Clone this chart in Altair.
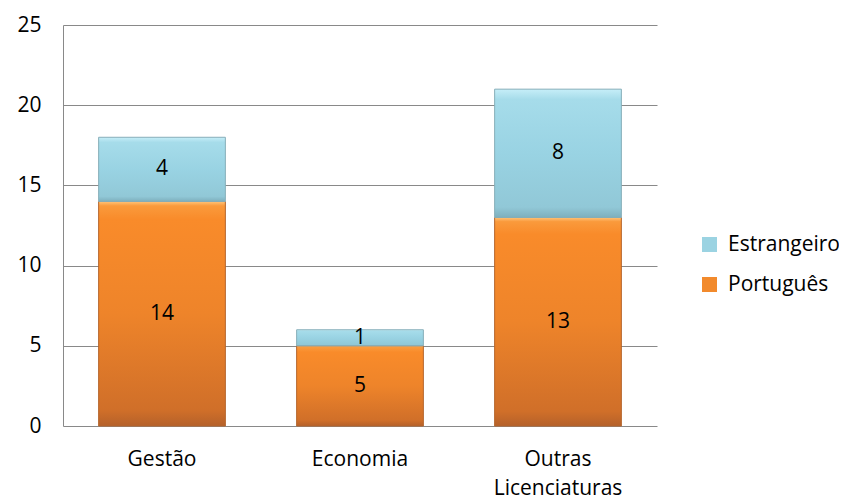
import altair as alt
import pandas as pd

categories = ["Gestão", "Economia", "Outras Licenciaturas"]
portugues = [14, 5, 13]
estrangeiro = [4, 1, 8]
series_names = ["Português", "Estrangeiro"]

rows = []
for c, p, e in zip(categories, portugues, estrangeiro):
    rows.append({"cat": c, "series": "Português", "value": p, "ord": 0})
    rows.append({"cat": c, "series": "Estrangeiro", "value": e, "ord": 1})
df = pd.DataFrame(rows)

FONT = "Open Sans"
FS = 21
GRID = "#898989"

orange_grad = alt.Gradient(
    gradient="linear", x1=0, x2=0, y1=0, y2=1,
    stops=[
        alt.GradientStop(offset=0, color="#FFC47A"),
        alt.GradientStop(offset=0.02, color="#FA9A3C"),
        alt.GradientStop(offset=0.08, color="#F98B2A"),
        alt.GradientStop(offset=0.5, color="#EE842A"),
        alt.GradientStop(offset=0.93, color="#D06F29"),
        alt.GradientStop(offset=1, color="#B5612A"),
    ],
)
blue_grad = alt.Gradient(
    gradient="linear", x1=0, x2=0, y1=0, y2=1,
    stops=[
        alt.GradientStop(offset=0, color="#C6EEF8"),
        alt.GradientStop(offset=0.08, color="#A6DCEA"),
        alt.GradientStop(offset=0.5, color="#99D3E3"),
        alt.GradientStop(offset=0.92, color="#91C8D7"),
        alt.GradientStop(offset=1, color="#7EAFBD"),
    ],
)

base = alt.Chart(df).transform_stack(
    stack="value", as_=["y0", "y1"], groupby=["cat"],
    sort=[alt.SortField("ord", order="ascending")],
).transform_calculate(mid="(datum.y0 + datum.y1) / 2")

x_enc = alt.X(
    "cat:N", sort=categories, title=None,
    scale=alt.Scale(paddingInner=0.36, paddingOuter=0.18),
    axis=alt.Axis(
        labelAngle=0, domain=False, ticks=False, grid=False,
        labelExpr="split(datum.label, ' ')", labelLineHeight=29,
        labelFont=FONT, labelFontSize=FS, labelColor="#000000",
        labelPadding=22, labelBaseline="top",
    ),
)
y_scale = alt.Scale(domain=[0, 25], nice=False)
y_enc = alt.Y(
    "y0:Q", scale=y_scale, title=None,
    axis=alt.Axis(
        values=[0, 5, 10, 15, 20, 25], ticks=False, domain=True,
        domainColor=GRID, gridColor=GRID, grid=True,
        labelFont=FONT, labelFontSize=FS, labelColor="#000000",
        labelPadding=22,
    ),
)

por_bars = base.transform_filter("datum.series == 'Português'").mark_bar(
    color=orange_grad, stroke="#B5652C", strokeWidth=1
).encode(x=x_enc, y=y_enc, y2="y1:Q")

est_bars = base.transform_filter("datum.series == 'Estrangeiro'").mark_bar(
    color=blue_grad, stroke="#86AEB9", strokeWidth=1
).encode(x=x_enc, y=y_enc, y2="y1:Q")

legend_layer = base.mark_square(opacity=0).encode(
    x=alt.X("cat:N", sort=categories),
    y=alt.Y("mid:Q", scale=y_scale),
    color=alt.Color(
        "series:N",
        scale=alt.Scale(domain=["Estrangeiro", "Português"],
                        range=["#9BD3E2", "#F28A2C"]),
        legend=alt.Legend(
            title=None, orient="none", legendX=636, legendY=209,
            symbolType="square", symbolSize=225, symbolOpacity=1,
            symbolStrokeWidth=0,
            labelFont=FONT, labelFontSize=FS, labelColor="#000000",
            labelOffset=8, rowPadding=18,
        ),
    ),
)

labels = base.mark_text(font=FONT, fontSize=FS, color="#000000").encode(
    x=alt.X("cat:N", sort=categories),
    y=alt.Y("mid:Q", scale=y_scale),
    text="value:Q",
)

chart = alt.layer(por_bars, est_bars, legend_layer, labels).properties(
    width=594, height=401,
    padding={"left": 55, "top": 17, "right": 182, "bottom": 77},
    autosize="none",
).configure_view(stroke=None).configure_axis(gridWidth=1, domainWidth=1)

chart.save("out.html", embed_options={"renderer": "svg", "actions": False})
